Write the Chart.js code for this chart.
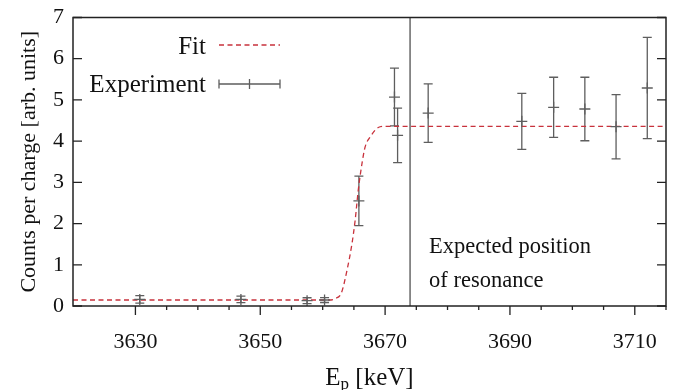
<!DOCTYPE html>
<html>
<head>
<meta charset="utf-8">
<script src="https://cdn.jsdelivr.net/npm/chart.js@4.4.1/dist/chart.umd.min.js"></script>
<style>
  html, body { margin: 0; padding: 0; background: #ffffff; }
  #wrap { width: 683px; height: 390px; }
</style>
</head>
<body>
<div id="wrap"><canvas id="chart" width="683" height="390"></canvas></div>
<script>
// Measured yield per charge around the resonance
const energy   = [3630.7, 3646.9, 3657.5, 3660.3, 3665.8, 3671.5, 3672.0, 3676.9, 3691.9, 3697.0, 3702.0, 3707.0, 3712.0];
const counts   = [0.16, 0.16, 0.13, 0.145, 2.55, 5.07, 4.14, 4.68, 4.48, 4.82, 4.78, 4.35, 5.29];
const countErr = [0.09, 0.08, 0.07, 0.06, 0.60, 0.70, 0.66, 0.71, 0.68, 0.73, 0.77, 0.78, 1.23];

// Fitted step curve
const fitEnergy = [3620, 3661.0, 3662.0, 3663.0, 3663.9, 3664.7, 3665.2, 3665.7, 3666.3, 3666.8, 3667.6, 3668.9, 3670.0, 3715];
const fitCounts = [0.145, 0.145, 0.18, 0.32, 0.87, 1.52, 2.08, 2.81, 3.46, 3.86, 4.10, 4.33, 4.36, 4.36];

// Expected resonance energy (keV)
const resonanceEnergy = 3674;

// Axis ticks
const xMajorTicks = [3630, 3650, 3670, 3690, 3710];
const xMinorStart = 3630, xMinorEnd = 3715, xMinorStep = 5;
const yTicks = [0, 1, 2, 3, 4, 5, 6, 7];

const SERIF = '"Liberation Serif", "DejaVu Serif", serif';
const FIT_COLOR = '#c8323c';
const ERR_COLOR = '#5e5e5e';

const pts = (xs, ys) => xs.map((x, i) => ({ x: x, y: ys[i] }));

const decorations = {
  id: 'decorations',
  beforeDatasetsDraw(chart) {
    const ctx = chart.ctx, xs = chart.scales.x, ys = chart.scales.y;
    ctx.save();
    ctx.strokeStyle = ERR_COLOR;
    ctx.lineWidth = 1.3;
    energy.forEach((e, i) => {
      const px = xs.getPixelForValue(e);
      const top = ys.getPixelForValue(counts[i] + countErr[i]);
      const bot = ys.getPixelForValue(counts[i] - countErr[i]);
      ctx.beginPath();
      ctx.moveTo(px, top); ctx.lineTo(px, bot);
      ctx.moveTo(px - 4.5, top); ctx.lineTo(px + 4.5, top);
      ctx.moveTo(px - 4.5, bot); ctx.lineTo(px + 4.5, bot);
      ctx.stroke();
    });
    ctx.restore();
  },
  afterDraw(chart) {
    const ctx = chart.ctx, a = chart.chartArea, xs = chart.scales.x, ys = chart.scales.y;
    ctx.save();

    // frame
    ctx.strokeStyle = '#222';
    ctx.lineWidth = 1.5;
    ctx.strokeRect(a.left, a.top, a.right - a.left, a.bottom - a.top);

    // y tick marks, inward on both sides
    ctx.lineWidth = 1.3;
    ctx.beginPath();
    yTicks.forEach(v => {
      const py = ys.getPixelForValue(v);
      ctx.moveTo(a.left, py); ctx.lineTo(a.left + 9, py);
      ctx.moveTo(a.right, py); ctx.lineTo(a.right - 9, py);
    });
    // x tick marks, outward below the axis
    for (let v = xMinorStart; v <= xMinorEnd; v += xMinorStep) {
      const px = xs.getPixelForValue(v);
      const len = xMajorTicks.includes(v) ? 9 : 4;
      ctx.moveTo(px, a.bottom); ctx.lineTo(px, a.bottom + len);
    }
    ctx.stroke();

    // x axis title with subscript
    ctx.fillStyle = '#111';
    ctx.textBaseline = 'alphabetic';
    ctx.textAlign = 'left';
    const big = '25px ' + SERIF, small = '17px ' + SERIF;
    ctx.font = big; const wE = ctx.measureText('E').width;
    ctx.font = small; const wP = ctx.measureText('p').width;
    ctx.font = big; const wR = ctx.measureText(' [keV]').width;
    const cx = (a.left + a.right) / 2;
    let tx = cx - (wE + wP + wR) / 2;
    const base = 385;
    ctx.font = big; ctx.fillText('E', tx, base); tx += wE;
    ctx.font = small; ctx.fillText('p', tx, base + 4); tx += wP;
    ctx.font = big; ctx.fillText(' [keV]', tx, base);

    // legend
    ctx.font = '25px ' + SERIF;
    ctx.textAlign = 'right';
    ctx.fillText('Fit', 206, 54);
    ctx.fillText('Experiment', 206, 92);
    ctx.strokeStyle = FIT_COLOR;
    ctx.lineWidth = 1.3;
    ctx.setLineDash([5, 3.5]);
    ctx.beginPath(); ctx.moveTo(219, 45); ctx.lineTo(280, 45); ctx.stroke();
    ctx.setLineDash([]);
    ctx.strokeStyle = ERR_COLOR;
    ctx.beginPath();
    ctx.moveTo(219, 84); ctx.lineTo(280, 84);
    ctx.moveTo(219, 79.5); ctx.lineTo(219, 88.5);
    ctx.moveTo(280, 79.5); ctx.lineTo(280, 88.5);
    ctx.moveTo(249.5, 79); ctx.lineTo(249.5, 89);
    ctx.stroke();

    // annotation next to the resonance line
    ctx.textAlign = 'left';
    ctx.font = '22.5px ' + SERIF;
    const ax = xs.getPixelForValue(resonanceEnergy) + 19;
    ctx.fillText('Expected position', ax, 253);
    ctx.fillText('of resonance', ax, 287);

    ctx.restore();
  }
};

new Chart(document.getElementById('chart'), {
  type: 'scatter',
  data: {
    datasets: [
      {
        label: 'Fit',
        type: 'line',
        data: pts(fitEnergy, fitCounts),
        borderColor: FIT_COLOR,
        borderWidth: 1.3,
        borderDash: [5, 3.5],
        pointRadius: 0,
        cubicInterpolationMode: 'monotone',
        fill: false,
        order: 1
      },
      {
        label: 'Resonance',
        type: 'line',
        data: [{ x: resonanceEnergy, y: 0 }, { x: resonanceEnergy, y: 7 }],
        borderColor: '#7a7a7a',
        borderWidth: 1.7,
        pointRadius: 0,
        fill: false,
        order: 2
      },
      {
        label: 'Experiment',
        data: pts(energy, counts),
        pointStyle: 'cross',
        pointRadius: 5.5,
        borderColor: ERR_COLOR,
        borderWidth: 1.3,
        backgroundColor: ERR_COLOR,
        order: 0
      }
    ]
  },
  options: {
    responsive: false,
    animation: false,
    devicePixelRatio: 1,
    layout: { padding: { top: 17.5, right: 17, left: 0, bottom: 0 } },
    plugins: { legend: { display: false }, tooltip: { enabled: false } },
    scales: {
      x: {
        type: 'linear',
        min: 3620,
        max: 3715,
        grid: { display: false, drawTicks: false },
        border: { display: false },
        afterBuildTicks: s => { s.ticks = xMajorTicks.map(v => ({ value: v })); },
        afterFit: s => { s.height = 84; s.paddingLeft = 0; s.paddingRight = 0; },
        ticks: {
          autoSkip: false,
          maxRotation: 0,
          padding: 23,
          color: '#111',
          font: { family: SERIF, size: 22 },
          callback: v => String(v)
        }
      },
      y: {
        min: 0,
        max: 7,
        grid: { display: false, drawTicks: false },
        border: { display: false },
        afterBuildTicks: s => { s.ticks = yTicks.map(v => ({ value: v })); },
        afterFit: s => { s.width = 73; s.paddingTop = 0; s.paddingBottom = 0; },
        ticks: {
          padding: 9,
          color: '#111',
          font: { family: SERIF, size: 22 },
          callback: v => String(v)
        },
        title: {
          display: true,
          text: 'Counts per charge [arb. units]',
          color: '#111',
          font: { family: SERIF, size: 22 },
          padding: { top: 16, bottom: 0 }
        }
      }
    }
  },
  plugins: [decorations]
});
</script>
</body>
</html>
